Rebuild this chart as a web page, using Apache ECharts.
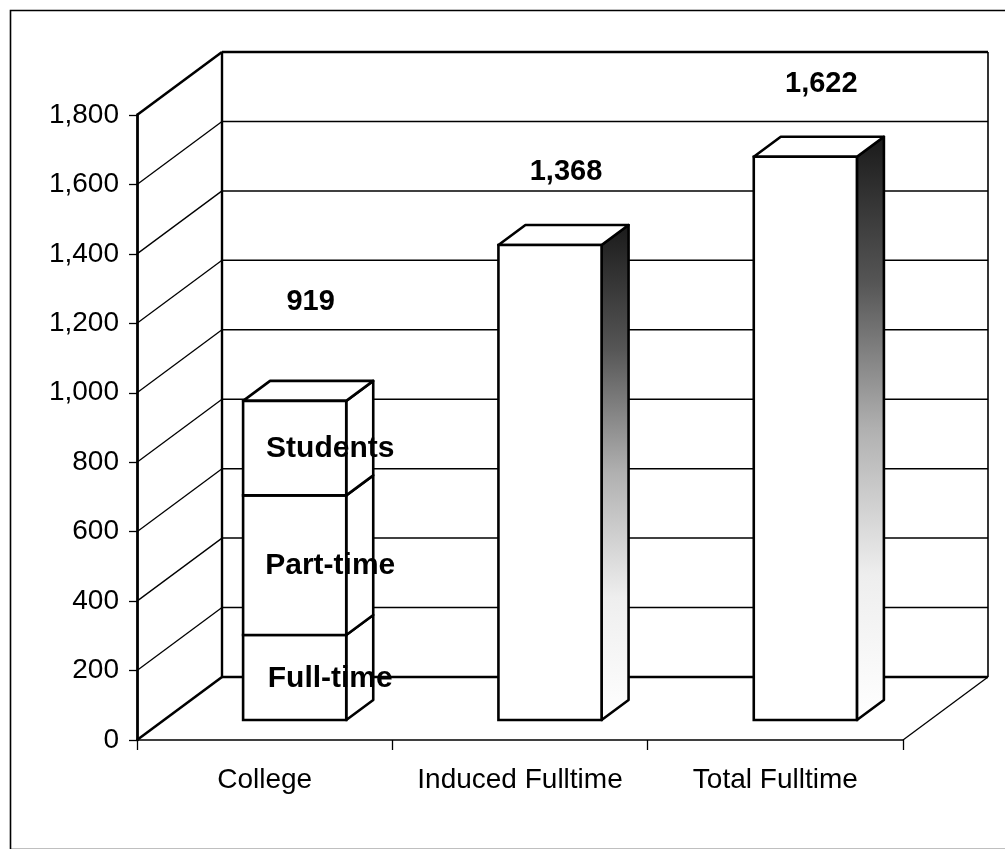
<!DOCTYPE html>
<html><head><meta charset="utf-8">
<script src="https://cdn.jsdelivr.net/npm/echarts@6/dist/echarts.min.js"></script>
<style>html,body{margin:0;padding:0;background:#fff}#c{width:1005px;height:849px}</style>
</head><body><div id="c"></div>
<script>
// ---------- data ----------
const categories = ['College', 'Induced Fulltime', 'Total Fulltime'];
const collegeSegments = ['Full-time', 'Part-time', 'Students'];
const collegeValues = [245, 402, 272];
const barTotals = [919, 1368, 1622];
const yTicks = [0, 200, 400, 600, 800, 1000, 1200, 1400, 1600, 1800];

// ---------- style / layout ----------
const FONT = "'Liberation Sans', Arial, sans-serif";
const DEPTH = { dx: 85, dy: -63 };   // back wall offset
const FACE = { dx: 30, dy: -20 };    // bar front face offset from the front plane
const SIDE = { dx: 27, dy: -20 };    // bar thickness
const FACE_W_FRAC = 103 / 255;
const labelLift = [99, 73, 73];
const sideGradient = {
  type: 'linear', x: 0, y: 0, x2: 0, y2: 1,
  colorStops: [
    { offset: 0, color: '#1a1a1a' },
    { offset: 0.25, color: '#555' },
    { offset: 0.5, color: '#b0b0b0' },
    { offset: 0.75, color: '#eee' },
    { offset: 1, color: '#ffffff' }
  ]
};

// ---------- build bar pieces from data ----------
const barItems = [];
let acc = 0;
collegeValues.forEach((v, k) => {
  barItems.push([0, acc, acc + v, k, k === collegeValues.length - 1 ? 1 : 0]);
  acc += v;
});
for (let i = 1; i < categories.length; i++) {
  barItems.push([i, 0, barTotals[i], -1, 1]);
}

function renderWall(params, api) {
  const cs = params.coordSys;
  const x0 = cs.x, x1 = cs.x + cs.width;
  const v = api.value(0);
  const y = api.coord([0, v])[1];
  const yBase = api.coord([0, yTicks[0]])[1];
  const isEdge = v === yTicks[0] || v === yTicks[yTicks.length - 1];
  const ch = [];
  ch.push({ type: 'line', shape: { x1: x0, y1: y, x2: x0 + DEPTH.dx, y2: y + DEPTH.dy },
    style: { stroke: '#000', lineWidth: isEdge ? 2.6 : 1.3 } });
  ch.push({ type: 'line', shape: { x1: x0 + DEPTH.dx, y1: y + DEPTH.dy, x2: x1 + DEPTH.dx, y2: y + DEPTH.dy },
    style: { stroke: '#000', lineWidth: isEdge ? 2.4 : 1.5 } });
  if (v === yTicks[0]) {
    ch.push({ type: 'line', shape: { x1: x1, y1: y, x2: x1 + DEPTH.dx, y2: y + DEPTH.dy },
      style: { stroke: '#000', lineWidth: 1.3 } });
  }
  if (v === yTicks[yTicks.length - 1]) {
    ch.push({ type: 'line', shape: { x1: x0 + DEPTH.dx, y1: y + DEPTH.dy, x2: x0 + DEPTH.dx, y2: yBase + DEPTH.dy },
      style: { stroke: '#000', lineWidth: 2.4 } });
    ch.push({ type: 'line', shape: { x1: x1 + DEPTH.dx, y1: y + DEPTH.dy, x2: x1 + DEPTH.dx, y2: yBase + DEPTH.dy },
      style: { stroke: '#000', lineWidth: 1.6 } });
  }
  return { type: 'group', children: ch };
}

function renderBar(params, api) {
  const i = api.value(0), b = api.value(1), t = api.value(2), seg = api.value(3), isTop = api.value(4);
  const band = api.size([1, 0])[0];
  const cx = api.coord([i, 0])[0];
  const w = band * FACE_W_FRAC;
  const xl = cx + FACE.dx - w / 2, xr = xl + w;
  const yb = api.coord([i, b])[1] + FACE.dy;
  const yt = api.coord([i, t])[1] + FACE.dy;
  const lw = 2.6;
  const ch = [];
  ch.push({ type: 'polygon',
    shape: { points: [[xr, yt], [xr + SIDE.dx, yt + SIDE.dy], [xr + SIDE.dx, yb + SIDE.dy], [xr, yb]] },
    style: { fill: i === 0 ? '#fff' : sideGradient, stroke: '#000', lineWidth: lw, lineJoin: 'round' } });
  if (isTop) {
    ch.push({ type: 'polygon',
      shape: { points: [[xl, yt], [xl + SIDE.dx, yt + SIDE.dy], [xr + SIDE.dx, yt + SIDE.dy], [xr, yt]] },
      style: { fill: '#fff', stroke: '#000', lineWidth: lw, lineJoin: 'round' } });
  }
  ch.push({ type: 'rect', shape: { x: xl, y: yt, width: w, height: yb - yt },
    style: { fill: '#fff', stroke: '#000', lineWidth: lw } });
  if (seg >= 0) {
    ch.push({ type: 'text', z2: 10,
      style: { text: collegeSegments[seg], x: xr - 16, y: (yt + yb) / 2 + 1, align: 'center', verticalAlign: 'middle',
        font: 'bold 30px ' + FONT, fill: '#000' } });
  }
  if (isTop) {
    ch.push({ type: 'text', z2: 10,
      style: { text: barTotals[i].toLocaleString('en-US'), x: xl + w / 2 + 16, y: yt - labelLift[i],
        align: 'center', verticalAlign: 'middle', font: 'bold 29px ' + FONT, fill: '#000' } });
  }
  return { type: 'group', children: ch };
}

const chart = echarts.init(document.getElementById('c'), null, { renderer: 'canvas' });
chart.setOption({
  backgroundColor: '#fff',
  animation: false,
  graphic: [{
    type: 'rect', left: 8, top: 8, silent: true,
    shape: { x: 0, y: 0, width: 1010, height: 839 },
    style: { fill: 'none', stroke: '#000', lineWidth: 1.6 }
  }],
  grid: { left: 137, right: 102, top: 115, bottom: 109, containLabel: false },
  xAxis: {
    type: 'category', data: categories,
    axisLine: { show: true, lineStyle: { color: '#000', width: 1.6 } },
    axisTick: { show: true, interval: 0, length: 10, lineStyle: { color: '#000', width: 1.3 } },
    axisLabel: { color: '#000', fontSize: 28, fontFamily: FONT, margin: 26, interval: 0, hideOverlap: false },
    splitLine: { show: false }
  },
  yAxis: {
    type: 'value', min: 0, max: 1800, interval: 200,
    axisLine: { show: true, lineStyle: { color: '#000', width: 2.8 } },
    axisTick: { show: true, length: 8, lineStyle: { color: '#000', width: 1.3 } },
    axisLabel: { color: '#000', fontSize: 28, fontFamily: FONT, margin: 18,
      formatter: v => v.toLocaleString('en-US') },
    splitLine: { show: false }
  },
  series: [
    { type: 'custom', name: 'walls', silent: true, z: 1, clip: false,
      data: yTicks.map(v => [v]), encode: { y: 0 }, renderItem: renderWall },
    { type: 'custom', name: 'bars', silent: true, z: 3, clip: false,
      data: barItems, encode: { x: 0, y: [1, 2] }, renderItem: renderBar }
  ]
});
</script>
</body></html>
